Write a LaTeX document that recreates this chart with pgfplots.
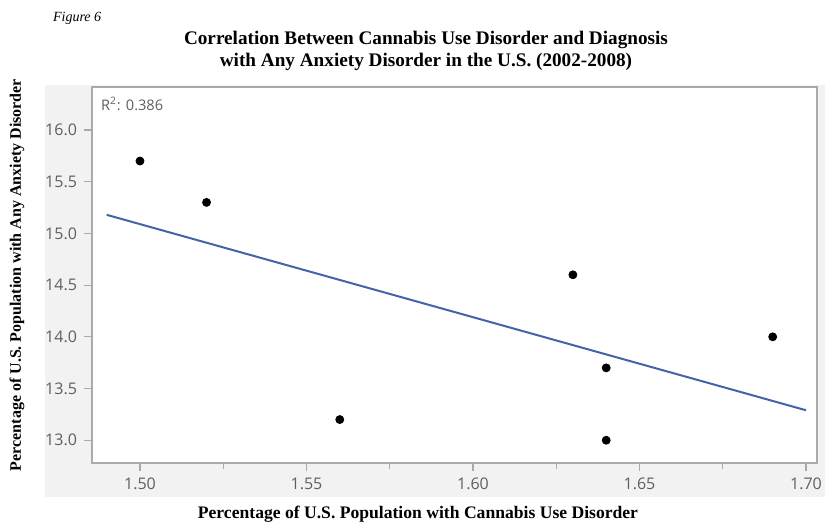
\documentclass[border=0pt]{standalone}
\usepackage{pgfplots}
\pgfplotsset{compat=1.18}
\usepackage{fontspec}
\setmainfont{Liberation Serif}
\setsansfont{Open Sans}
\definecolor{fitblue}{RGB}{70,98,168}
\definecolor{panelgray}{RGB}{242,242,242}
\definecolor{ticktext}{RGB}{95,95,95}
\definecolor{framegray}{RGB}{170,170,170}
\begin{document}
\begin{tikzpicture}
\path[use as bounding box] (0,0) rectangle (412.5pt,261.5pt);
\fill[panelgray] (22.5pt,13pt) rectangle (412.5pt,219pt);
\begin{axis}[
  at={(46pt,30pt)}, anchor=south west,
  scale only axis, width=362.5pt, height=188pt,
  xmin=1.4856, xmax=1.7033, ymin=12.78, ymax=16.416,
  axis background/.style={fill=white},
  axis line style={framegray, line width=0.6pt},
  xtick={1.50,1.55,1.60,1.65,1.70},
  minor xtick={1.525,1.575,1.625,1.675},
  ytick={13.0,13.5,14.0,14.5,15.0,15.5,16.0},
  xticklabel style={/pgf/number format/.cd, fixed, fixed zerofill, precision=2},
  yticklabel style={/pgf/number format/.cd, fixed, fixed zerofill, precision=1},
  /pgf/number format/assume math mode=true,
  tick label style={font=\sffamily\fontsize{8}{9}\selectfont, text=ticktext},
  tick align=outside, tick pos=left,
  major tick length=4pt, minor tick length=3pt,
  tick style={framegray, line width=0.6pt},
  clip=false,
]
\addplot[fitblue, line width=1pt] coordinates {(1.49,15.18) (1.70,13.29)};
\addplot[only marks, mark=*, mark size=2pt, black] coordinates {
(1.50,15.7) (1.52,15.3) (1.56,13.2) (1.63,14.6) (1.64,13.7) (1.64,13.0) (1.69,14.0)};
\node[anchor=north west, font=\sffamily\fontsize{7.3}{8}\selectfont, text=ticktext, inner sep=0pt] at (rel axis cs:0.012,0.975) {R\textsuperscript{2}: 0.386};
\end{axis}
\node[anchor=west, font=\itshape\fontsize{7}{8}\selectfont] at (23pt,252.5pt) {Figure 6};
\node[font=\bfseries\fontsize{9.6}{10.8}\selectfont, align=center] at (213pt,236pt) {Correlation Between Cannabis Use Disorder and Diagnosis\\with Any Anxiety Disorder in the U.S. (2002-2008)};
\node[font=\bfseries\fontsize{8.8}{9}\selectfont] at (209pt,4.5pt) {Percentage of U.S. Population with Cannabis Use Disorder};
\node[font=\bfseries\fontsize{8}{9}\selectfont, rotate=90] at (8.5pt,124pt) {Percentage of U.S. Population with Any Anxiety Disorder};
\end{tikzpicture}
\end{document}
